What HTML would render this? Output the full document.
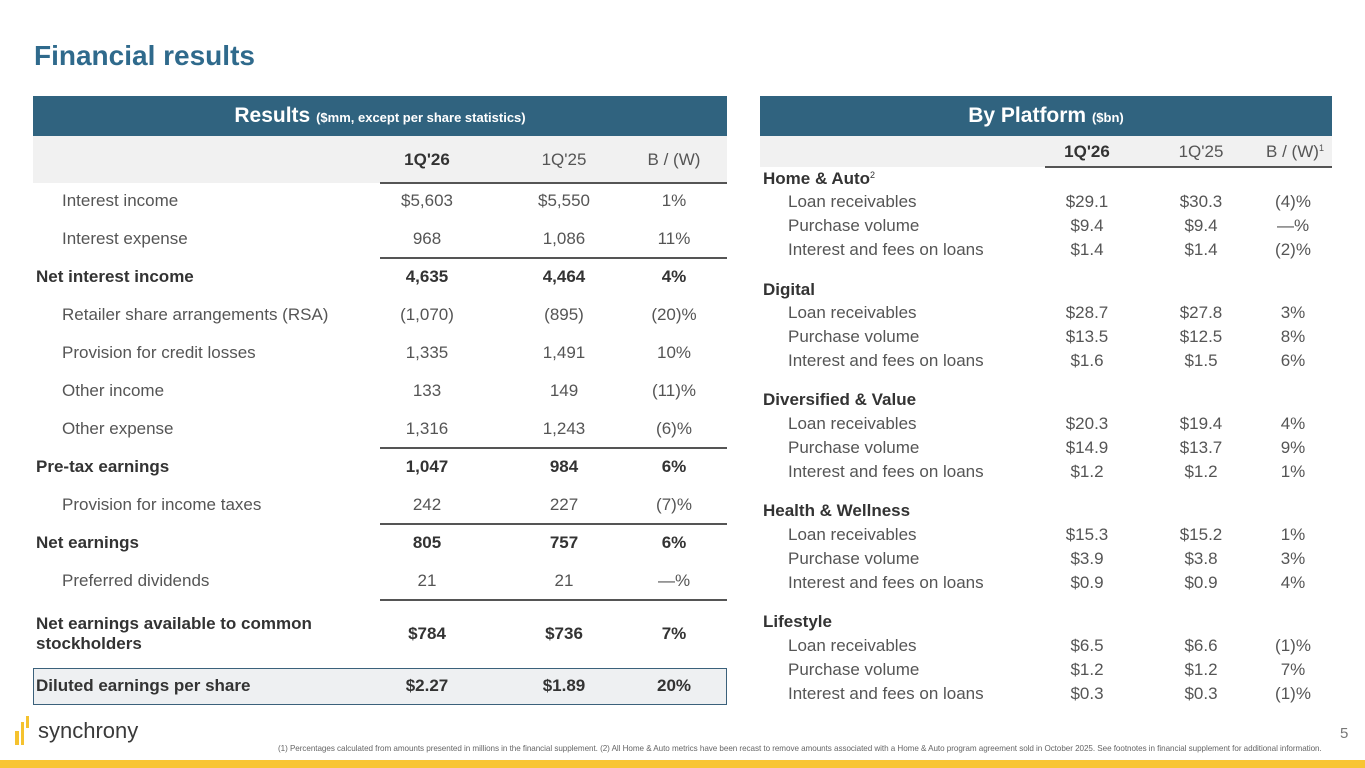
<!DOCTYPE html>
<html><head><meta charset="utf-8"><style>
*{margin:0;padding:0;box-sizing:border-box}
body{width:1365px;height:768px;position:relative;background:#fff;font-family:"Liberation Sans","DejaVu Sans",sans-serif;color:#444;overflow:hidden}
.a{position:absolute;white-space:nowrap}
.t{font-size:28px;font-weight:bold;color:#2f6a8c;left:34px;top:40px}
.hb{background:#30637f;color:#fff;height:40px;top:96px;font-size:21px;font-weight:bold;text-align:center;line-height:40px}
.hb small{font-size:13px}
.g{background:#f1f1f1}
.r{font-size:17px;font-weight:300;color:#555;line-height:20px}
.b{font-weight:bold;color:#333}
.c{text-align:center;width:100px;margin-left:-50px}
.ln{height:2px;background:#555}
sup{font-size:9px;line-height:0;vertical-align:6px}
</style></head><body>
<div class="a t">Financial results</div>

<div class="a hb" style="left:33px;width:694px">Results <small>($mm, except per share statistics)</small></div>
<div class="a g" style="left:33px;top:136px;width:694px;height:47px"></div>
<div class="a ln" style="left:380px;top:182px;width:347px"></div>
<div class="a ln" style="left:380px;top:257px;width:347px"></div>
<div class="a ln" style="left:380px;top:447px;width:347px"></div>
<div class="a ln" style="left:380px;top:523px;width:347px"></div>
<div class="a ln" style="left:380px;top:599px;width:347px"></div>
<div class="a" style="left:33px;top:668px;width:694px;height:37px;background:#eef0f2;border:1.5px solid #3b617b"></div>

<div class="a r b c" style="left:427px;top:150px">1Q'26</div>
<div class="a r c" style="left:564px;top:150px">1Q'25</div>
<div class="a r c" style="left:674px;top:150px">B / (W)</div>

<div class="a r" style="left:62px;top:191px">Interest income</div><div class="a r c" style="left:427px;top:191px">$5,603</div><div class="a r c" style="left:564px;top:191px">$5,550</div><div class="a r c" style="left:674px;top:191px">1%</div>
<div class="a r" style="left:62px;top:229px">Interest expense</div><div class="a r c" style="left:427px;top:229px">968</div><div class="a r c" style="left:564px;top:229px">1,086</div><div class="a r c" style="left:674px;top:229px">11%</div>
<div class="a r b" style="left:36px;top:267px">Net interest income</div><div class="a r b c" style="left:427px;top:267px">4,635</div><div class="a r b c" style="left:564px;top:267px">4,464</div><div class="a r b c" style="left:674px;top:267px">4%</div>
<div class="a r" style="left:62px;top:305px">Retailer share arrangements (RSA)</div><div class="a r c" style="left:427px;top:305px">(1,070)</div><div class="a r c" style="left:564px;top:305px">(895)</div><div class="a r c" style="left:674px;top:305px">(20)%</div>
<div class="a r" style="left:62px;top:343px">Provision for credit losses</div><div class="a r c" style="left:427px;top:343px">1,335</div><div class="a r c" style="left:564px;top:343px">1,491</div><div class="a r c" style="left:674px;top:343px">10%</div>
<div class="a r" style="left:62px;top:381px">Other income</div><div class="a r c" style="left:427px;top:381px">133</div><div class="a r c" style="left:564px;top:381px">149</div><div class="a r c" style="left:674px;top:381px">(11)%</div>
<div class="a r" style="left:62px;top:419px">Other expense</div><div class="a r c" style="left:427px;top:419px">1,316</div><div class="a r c" style="left:564px;top:419px">1,243</div><div class="a r c" style="left:674px;top:419px">(6)%</div>
<div class="a r b" style="left:36px;top:457px">Pre-tax earnings</div><div class="a r b c" style="left:427px;top:457px">1,047</div><div class="a r b c" style="left:564px;top:457px">984</div><div class="a r b c" style="left:674px;top:457px">6%</div>
<div class="a r" style="left:62px;top:495px">Provision for income taxes</div><div class="a r c" style="left:427px;top:495px">242</div><div class="a r c" style="left:564px;top:495px">227</div><div class="a r c" style="left:674px;top:495px">(7)%</div>
<div class="a r b" style="left:36px;top:533px">Net earnings</div><div class="a r b c" style="left:427px;top:533px">805</div><div class="a r b c" style="left:564px;top:533px">757</div><div class="a r b c" style="left:674px;top:533px">6%</div>
<div class="a r" style="left:62px;top:571px">Preferred dividends</div><div class="a r c" style="left:427px;top:571px">21</div><div class="a r c" style="left:564px;top:571px">21</div><div class="a r c" style="left:674px;top:571px">—%</div>
<div class="a r b" style="left:36px;top:614px">Net earnings available to common<br>stockholders</div><div class="a r b c" style="left:427px;top:624px">$784</div><div class="a r b c" style="left:564px;top:624px">$736</div><div class="a r b c" style="left:674px;top:624px">7%</div>
<div class="a r b" style="left:36px;top:676px">Diluted earnings per share</div><div class="a r b c" style="left:427px;top:676px">$2.27</div><div class="a r b c" style="left:564px;top:676px">$1.89</div><div class="a r b c" style="left:674px;top:676px">20%</div>

<div class="a hb" style="left:760px;width:572px">By Platform <small>($bn)</small></div>
<div class="a g" style="left:760px;top:136px;width:572px;height:31px"></div>
<div class="a ln" style="left:1045px;top:166px;width:287px"></div>
<div class="a r b c" style="left:1087px;top:142px">1Q'26</div>
<div class="a r c" style="left:1201px;top:142px">1Q'25</div>
<div class="a r c" style="left:1295px;top:142px">B / (W)<sup>1</sup></div>

<div class="a r b" style="left:763px;top:169px">Home &amp; Auto<sup style="font-weight:300">2</sup></div>
<div class="a r" style="left:788px;top:192px">Loan receivables</div><div class="a r c" style="left:1087px;top:192px">$29.1</div><div class="a r c" style="left:1201px;top:192px">$30.3</div><div class="a r c" style="left:1293px;top:192px">(4)%</div>
<div class="a r" style="left:788px;top:216px">Purchase volume</div><div class="a r c" style="left:1087px;top:216px">$9.4</div><div class="a r c" style="left:1201px;top:216px">$9.4</div><div class="a r c" style="left:1293px;top:216px">—%</div>
<div class="a r" style="left:788px;top:240px">Interest and fees on loans</div><div class="a r c" style="left:1087px;top:240px">$1.4</div><div class="a r c" style="left:1201px;top:240px">$1.4</div><div class="a r c" style="left:1293px;top:240px">(2)%</div>

<div class="a r b" style="left:763px;top:280px">Digital</div>
<div class="a r" style="left:788px;top:303px">Loan receivables</div><div class="a r c" style="left:1087px;top:303px">$28.7</div><div class="a r c" style="left:1201px;top:303px">$27.8</div><div class="a r c" style="left:1293px;top:303px">3%</div>
<div class="a r" style="left:788px;top:327px">Purchase volume</div><div class="a r c" style="left:1087px;top:327px">$13.5</div><div class="a r c" style="left:1201px;top:327px">$12.5</div><div class="a r c" style="left:1293px;top:327px">8%</div>
<div class="a r" style="left:788px;top:351px">Interest and fees on loans</div><div class="a r c" style="left:1087px;top:351px">$1.6</div><div class="a r c" style="left:1201px;top:351px">$1.5</div><div class="a r c" style="left:1293px;top:351px">6%</div>

<div class="a r b" style="left:763px;top:390px">Diversified &amp; Value</div>
<div class="a r" style="left:788px;top:414px">Loan receivables</div><div class="a r c" style="left:1087px;top:414px">$20.3</div><div class="a r c" style="left:1201px;top:414px">$19.4</div><div class="a r c" style="left:1293px;top:414px">4%</div>
<div class="a r" style="left:788px;top:438px">Purchase volume</div><div class="a r c" style="left:1087px;top:438px">$14.9</div><div class="a r c" style="left:1201px;top:438px">$13.7</div><div class="a r c" style="left:1293px;top:438px">9%</div>
<div class="a r" style="left:788px;top:462px">Interest and fees on loans</div><div class="a r c" style="left:1087px;top:462px">$1.2</div><div class="a r c" style="left:1201px;top:462px">$1.2</div><div class="a r c" style="left:1293px;top:462px">1%</div>

<div class="a r b" style="left:763px;top:501px">Health &amp; Wellness</div>
<div class="a r" style="left:788px;top:525px">Loan receivables</div><div class="a r c" style="left:1087px;top:525px">$15.3</div><div class="a r c" style="left:1201px;top:525px">$15.2</div><div class="a r c" style="left:1293px;top:525px">1%</div>
<div class="a r" style="left:788px;top:549px">Purchase volume</div><div class="a r c" style="left:1087px;top:549px">$3.9</div><div class="a r c" style="left:1201px;top:549px">$3.8</div><div class="a r c" style="left:1293px;top:549px">3%</div>
<div class="a r" style="left:788px;top:573px">Interest and fees on loans</div><div class="a r c" style="left:1087px;top:573px">$0.9</div><div class="a r c" style="left:1201px;top:573px">$0.9</div><div class="a r c" style="left:1293px;top:573px">4%</div>

<div class="a r b" style="left:763px;top:612px">Lifestyle</div>
<div class="a r" style="left:788px;top:636px">Loan receivables</div><div class="a r c" style="left:1087px;top:636px">$6.5</div><div class="a r c" style="left:1201px;top:636px">$6.6</div><div class="a r c" style="left:1293px;top:636px">(1)%</div>
<div class="a r" style="left:788px;top:660px">Purchase volume</div><div class="a r c" style="left:1087px;top:660px">$1.2</div><div class="a r c" style="left:1201px;top:660px">$1.2</div><div class="a r c" style="left:1293px;top:660px">7%</div>
<div class="a r" style="left:788px;top:684px">Interest and fees on loans</div><div class="a r c" style="left:1087px;top:684px">$0.3</div><div class="a r c" style="left:1201px;top:684px">$0.3</div><div class="a r c" style="left:1293px;top:684px">(1)%</div>

<div class="a" style="left:15px;top:731px;width:4px;height:14px;background:#f5c22e"></div>
<div class="a" style="left:21px;top:722px;width:3px;height:23px;background:#f5c22e"></div>
<div class="a" style="left:26px;top:716px;width:3px;height:12px;background:#f5c22e"></div>
<div class="a" style="left:38px;top:718px;font-size:22px;color:#3a3a3a;font-weight:300">synchrony</div>
<div class="a" style="left:1340px;top:725px;font-size:15px;color:#777">5</div>
<div class="a" style="left:278px;top:744px;font-size:8.1px;color:#666;letter-spacing:-0.05px">(1) Percentages calculated from amounts presented in millions in the financial supplement. (2) All Home &amp; Auto metrics have been recast to remove amounts associated with a Home &amp; Auto program agreement sold in October 2025. See footnotes in financial supplement for additional information.</div>
<div class="a" style="left:0;top:760px;width:1365px;height:8px;background:#f8c533"></div>
</body></html>
